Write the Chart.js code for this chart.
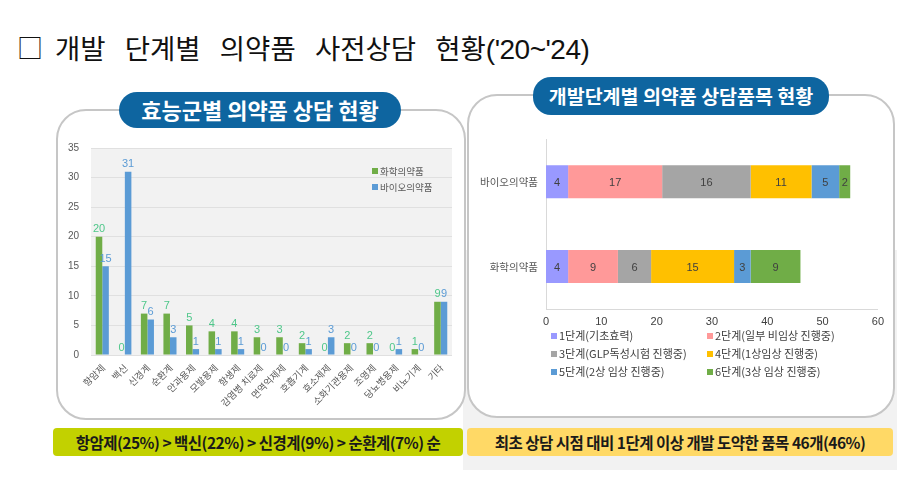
<!DOCTYPE html>
<html><head><meta charset="utf-8">
<script src="https://cdn.jsdelivr.net/npm/chart.js@4"></script>
<style>
html,body{margin:0;padding:0;background:#fff;}
body{width:924px;height:478px;position:relative;overflow:hidden;font-family:"Noto Sans CJK KR","Noto Sans",sans-serif;}
.abs{position:absolute;}
.title{top:27px;font-size:27.5px;color:#111;white-space:nowrap;word-spacing:13px;}
.title small{font-family:"Liberation Sans",Arial,sans-serif;font-size:28px;letter-spacing:-0.5px;word-spacing:0;}
.panel{border:2px solid #c6c6c6;border-radius:30px;background:#fff;box-sizing:border-box;}
.pill{background:#0e65a0;color:#fff;font-weight:bold;border-radius:18px;text-align:center;box-sizing:border-box;white-space:nowrap;}
.banner{border-radius:4px;text-align:center;font-size:15.5px;font-weight:bold;color:#1a1a1a;letter-spacing:-0.5px;white-space:nowrap;box-sizing:border-box;}
.leg{font-size:10px;color:#404040;white-space:nowrap;}
.leg i{display:inline-block;width:6px;height:6px;margin-right:2px;vertical-align:1px;}
</style></head>
<body>
<div class="abs" style="left:463px;top:250px;width:434px;height:220px;background:#f2f2f2;"></div>
<div class="abs title" style="left:17px;top:28px;font-size:26px;word-spacing:0;">□</div>
<div class="abs title" style="left:55px;">개발 단계별 의약품 사전상담 현황<small>('20~'24)</small></div>

<div class="abs panel" style="left:56px;top:109px;width:410px;height:311px;"></div>
<div class="abs pill" style="left:119px;top:92px;width:282px;height:36px;line-height:35px;font-size:22px;">효능군별 의약품 상담 현황</div>

<div class="abs panel" style="left:467px;top:94px;width:428px;height:324px;"></div>
<div class="abs pill" style="left:533px;top:77px;width:296px;height:38px;line-height:37px;font-size:19.5px;">개발단계별 의약품 상담품목 현황</div>

<div class="abs" style="left:56px;top:130px;width:404px;height:285px;"><canvas id="c1" width="404" height="285"></canvas></div>
<div class="abs" id="leg1" style="left:372px;top:163px;"></div>

<div class="abs" style="left:470px;top:125px;width:420px;height:210px;"><canvas id="c2" width="420" height="210"></canvas></div>
<div class="abs" id="leg2" style="left:551px;top:327px;width:340px;"></div>

<div class="abs banner" style="left:53px;top:428px;width:410px;height:28px;line-height:28px;background:#c2d100;">항암제(25%) &gt; 백신(22%) &gt; 신경계(9%) &gt; 순환계(7%) 순</div>
<div class="abs banner" style="left:467px;top:428px;width:426px;height:28px;line-height:28px;background:#ffd966;">최초 상담 시점 대비 1단계 이상 개발 도약한 품목 46개(46%)</div>

<script>
// ---- Data: left chart ----
const categories = ["항암제","백신","신경계","순환계","안과용제","모발용제","항생제","감염병 치료제","면역억제제","호흡기계","효소제제","소화기관용제","조영제","당뇨병용제","비뇨기계","기타"];
const seriesNames = ["화학의약품","바이오의약품"];
const chemicalValues = [20,0,7,7,5,4,4,3,3,2,0,2,2,0,1,9];
const bioValues = [15,31,6,3,1,1,1,0,0,1,3,0,0,1,0,9];
const yTicks = [0,5,10,15,20,25,30,35];

// ---- Data: right chart ----
const productTypes = ["바이오의약품","화학의약품"];
const stageNames = ["1단계(기초효력)","2단계(일부 비임상 진행중)","3단계(GLP독성시험 진행중)","4단계(1상임상 진행중)","5단계(2상 임상 진행중)","6단계(3상 임상 진행중)"];
const stage1 = [4,4];
const stage2 = [17,9];
const stage3 = [16,6];
const stage4 = [11,15];
const stage5 = [5,3];
const stage6 = [2,9];
const xTicks = [0,10,20,30,40,50,60];

const green = "#70ad47", blue = "#5b9bd5";
const labelColors = ["#4fc78a", "#5b9bd5"];
const stageColors = ["#9999ff","#ff9999","#a5a5a5","#ffc000","#5b9bd5","#70ad47"];
const stageValues = [stage1,stage2,stage3,stage4,stage5,stage6];

const bgPlugin = {
  id:'bg',
  beforeDraw(chart, args, opts){
    if(!opts.color) return;
    const a = chart.chartArea, ctx = chart.ctx;
    ctx.save(); ctx.fillStyle = opts.color; ctx.fillRect(a.left, a.top, a.right-a.left, a.bottom-a.top); ctx.restore();
  }
};
const labelPlugin = {
  id:'vlabels',
  afterDatasetsDraw(chart, args, opts){
    const ctx = chart.ctx;
    ctx.save();
    chart.data.datasets.forEach((ds, di) => {
      const meta = chart.getDatasetMeta(di);
      meta.data.forEach((el, i) => {
        const v = ds.data[i];
        ctx.font = opts.font;
        if (opts.mode === 'top') {
          ctx.fillStyle = opts.colors[di];
          ctx.textAlign = 'center'; ctx.textBaseline = 'bottom';
          ctx.fillText(String(v), el.x, el.y - 2);
        } else {
          ctx.fillStyle = opts.color;
          ctx.textAlign = 'center'; ctx.textBaseline = 'middle';
          ctx.fillText(String(v), (el.x + el.base) / 2, el.y + 1);
        }
      });
    });
    ctx.restore();
  }
};
// rotated category labels, positioned by the x scale
const rotLabels = {
  id:'rotLabels',
  afterDraw(chart, args, opts){
    if(!opts.enabled) return;
    const xs = chart.scales.x, ctx = chart.ctx, bottom = chart.chartArea.bottom;
    ctx.save();
    ctx.font = opts.font; ctx.fillStyle = opts.color;
    ctx.textAlign = 'right'; ctx.textBaseline = 'middle';
    chart.data.labels.forEach((lab, i) => {
      const x = xs.getPixelForTick(i);
      ctx.save();
      ctx.translate(x + opts.dx, bottom + opts.dy);
      ctx.rotate(-Math.PI/4);
      ctx.fillText(lab, 0, 0);
      ctx.restore();
    });
    ctx.restore();
  }
};

Chart.defaults.font.family = '"Noto Sans CJK KR","Liberation Sans",sans-serif';
Chart.defaults.animation = false;

new Chart(document.getElementById('c1'), {
  type:'bar',
  data:{
    labels: categories,
    datasets:[
      {label: seriesNames[0], data: chemicalValues, backgroundColor: green, categoryPercentage:0.58, barPercentage:1.0},
      {label: seriesNames[1], data: bioValues, backgroundColor: blue, categoryPercentage:0.58, barPercentage:1.0}
    ]
  },
  options:{
    responsive:false,
    layout:{padding:{top:17,right:8,left:0,bottom:0}},
    plugins:{
      legend:{display:false}, tooltip:{enabled:false},
      bg:{color:'#f2f2f2'},
      vlabels:{mode:'top', colors: labelColors, font:'11px "Liberation Sans", Arial, sans-serif'},
      rotLabels:{enabled:true, font:'9.5px "Noto Sans CJK KR", sans-serif', color:'#595959', dx:1, dy:11}
    },
    scales:{
      y:{min:0,max:35,
        afterFit(s){ s.width = 35; },
        afterBuildTicks(s){ s.ticks = yTicks.map(v=>({value:v})); },
        grid:{color:'#e0e0e0', drawTicks:false},
        border:{display:false},
        ticks:{color:'#595959', font:{size:10, family:'"Liberation Sans", Arial, sans-serif'}, padding:12}
      },
      x:{
        afterFit(s){ s.height = 60; },
        grid:{display:false, drawTicks:false},
        border:{display:false},
        ticks:{display:false}
      }
    }
  },
  plugins:[bgPlugin, labelPlugin, rotLabels]
});

new Chart(document.getElementById('c2'), {
  type:'bar',
  data:{
    labels: productTypes,
    datasets: stageNames.map((n, i) => ({label:n, data: stageValues[i], backgroundColor: stageColors[i], barPercentage:0.78, categoryPercentage:0.5}))
  },
  options:{
    indexAxis:'y',
    responsive:false,
    layout:{padding:{top:9,right:12,left:0,bottom:0}},
    plugins:{
      legend:{display:false}, tooltip:{enabled:false},
      vlabels:{mode:'center', color:'#404040', font:'11px "Liberation Sans", Arial, sans-serif'}
    },
    scales:{
      x:{stacked:true, min:0, max:60,
        afterFit(s){ s.height = 26; },
        afterBuildTicks(s){ s.ticks = xTicks.map(v=>({value:v})); },
        grid:{display:false, drawTicks:false},
        border:{display:true, color:'#d9d9d9'},
        ticks:{color:'#404040', font:{size:11, family:'"Liberation Sans", Arial, sans-serif'}, padding:6}
      },
      y:{stacked:true,
        afterFit(s){ s.width = 76; },
        grid:{display:false, drawTicks:false},
        border:{display:true, color:'#d9d9d9'},
        ticks:{color:'#595959', font:{size:10.5}, padding:8}
      }
    }
  },
  plugins:[labelPlugin]
});

// HTML legends built from the arrays
const l1 = document.getElementById('leg1');
l1.innerHTML = seriesNames.map((n,i)=>`<div class="leg" style="height:16px;line-height:16px;font-size:9.5px;color:#595959"><i style="background:${[green,blue][i]}"></i>${n}</div>`).join('');
const l2 = document.getElementById('leg2');
l2.innerHTML = stageNames.map((n,i)=>`<div class="leg" style="position:absolute;left:${(i%2)*156}px;top:${Math.floor(i/2)*18}px;height:16px;line-height:16px;font-size:11px"><i style="background:${stageColors[i]}"></i>${n}</div>`).join('');
</script>
</body></html>
